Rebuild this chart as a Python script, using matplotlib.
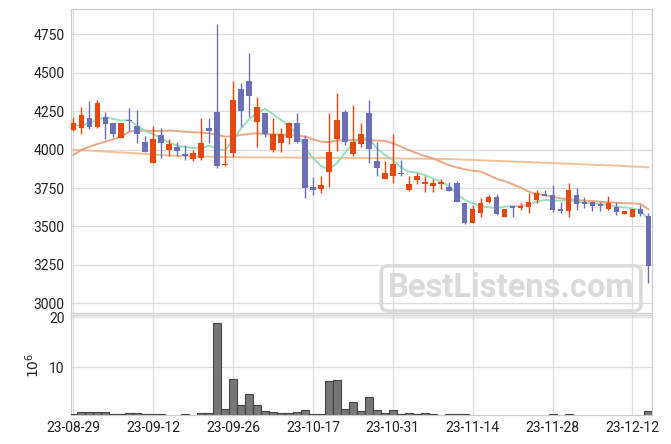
import matplotlib
matplotlib.use("Agg")
import matplotlib.pyplot as plt
import numpy as np

plt.rcParams['font.family'] = ['Roboto', 'DejaVu Sans']

# 일봉 데이터
opens = [4130, 4143, 4208, 4146, 4213, 4174, 4074, 4195, 4152, 4050,
         3913, 4098, 3998, 4018, 3972, 3937, 3944, 4141, 4245, 3898,
         3980, 4395, 4447, 4182, 4237, 4000, 4042, 4074, 4172, 4068,
         3755, 3746, 3857, 4072, 4243, 3970, 4035, 4239, 3926, 3809,
         3831, 3848, 3738, 3803, 3777, 3764, 3779, 3757, 3781, 3651,
         3525, 3586, 3660, 3692, 3564, 3633, 3622, 3629, 3673, 3714,
         3707, 3614, 3601, 3705, 3657, 3657, 3647, 3614, 3627, 3583,
         3562, 3614, 3568]
highs = [4215, 4276, 4317, 4324, 4245, 4174, 4174, 4270, 4258, 4087,
         4154, 4139, 4072, 4052, 4033, 3999, 4206, 4206, 4816, 4074,
         4447, 4432, 4628, 4345, 4237, 4204, 4143, 4182, 4237, 4094,
         3824, 3831, 4237, 4367, 4258, 4291, 4172, 4324, 4052, 3926,
         4100, 3933, 3829, 3846, 3829, 3809, 3809, 3792, 3796, 3651,
         3639, 3688, 3703, 3712, 3614, 3633, 3651, 3716, 3738, 3738,
         3770, 3662, 3781, 3749, 3694, 3657, 3660, 3699, 3657, 3601,
         3614, 3640, 3590]
lows = [4124, 4102, 4133, 4141, 4068, 4085, 4074, 4122, 4042, 3983,
        3911, 3944, 3961, 3956, 3933, 3924, 3933, 4042, 3880, 3895,
        3954, 4146, 4215, 4016, 4081, 3983, 3987, 4035, 4042, 3684,
        3705, 3716, 3759, 3992, 4031, 3961, 4020, 3911, 3831, 3809,
        3781, 3831, 3731, 3777, 3727, 3722, 3744, 3733, 3661, 3516,
        3525, 3564, 3655, 3575, 3564, 3560, 3607, 3586, 3651, 3701,
        3596, 3586, 3564, 3607, 3618, 3603, 3603, 3607, 3573, 3583,
        3562, 3568, 3134]
closes = [4172, 4226, 4150, 4304, 4169, 4104, 4174, 4185, 4100, 3983,
          4070, 4046, 4037, 3992, 3959, 3980, 4046, 4122, 3894, 3907,
          4323, 4254, 4352, 4276, 4100, 4102, 4102, 4172, 4052, 3753,
          3740, 3768, 3985, 4193, 4052, 4050, 4102, 4003, 3883, 3846,
          3905, 3843, 3777, 3829, 3792, 3785, 3790, 3733, 3661, 3525,
          3612, 3651, 3692, 3583, 3614, 3622, 3633, 3660, 3716, 3701,
          3607, 3601, 3738, 3647, 3647, 3635, 3635, 3655, 3592, 3601,
          3614, 3583, 3243]

# 거래량 (백만 단위)
volumes = [0.6, 1.0, 1.0, 1.0, 1.0, 0.6, 0.6, 0.8, 0.8, 0.6,
           0.6, 0.6, 0.3, 0.3, 0.6, 0.3, 0.8, 0.8, 18.8, 1.66,
           7.6, 2.4, 4.6, 2.4, 1.2, 1.0, 0.8, 0.8, 1.0, 1.4,
           0.6, 0.6, 7.26, 7.46, 1.66, 3.06, 1.26, 4.0, 1.46, 0.86,
           1.46, 0.6, 0.8, 0.6, 0.8, 0.6, 0.3, 0.6, 0.6, 0.6,
           0.3, 0.3, 0.3, 0.3, 0.3, 0.3, 0.3, 0.3, 0.3, 0.3,
           0.6, 0.3, 0.6, 0.3, 0.3, 0.3, 0.3, 0.3, 0.3, 0.3,
           0.3, 0.3, 1.2]

# 이동평균선
ma5 = [4161, 4156, 4172, 4198, 4211, 4200, 4189, 4193, 4154, 4122,
       4100, 4074, 4046, 4026, 4018, 4011, 4013, 4026, 4005, 3996,
       4063, 4139, 4198, 4241, 4265, 4232, 4193, 4154, 4107, 4012,
       3944, 3894, 3872, 3911, 3980, 4042, 4078, 4074, 4009, 3966,
       3933, 3885, 3857, 3850, 3835, 3814, 3792, 3764, 3712, 3673,
       3651, 3633, 3625, 3620, 3629, 3633, 3633, 3640, 3661, 3673,
       3668, 3668, 3673, 3661, 3657, 3651, 3647, 3640, 3629, 3625,
       3618, 3607, 3542]
ma20 = [3966, 3998, 4020, 4037, 4052, 4068, 4085, 4117, 4124, 4124,
        4122, 4122, 4124, 4122, 4117, 4113, 4111, 4107, 4096, 4085,
        4089, 4096, 4102, 4107, 4102, 4100, 4098, 4096, 4092, 4085,
        4068, 4052, 4050, 4059, 4063, 4063, 4063, 4063, 4059, 4057,
        4042, 4020, 3998, 3977, 3959, 3944, 3922, 3900, 3885, 3872,
        3863, 3857, 3835, 3810, 3796, 3775, 3753, 3727, 3712, 3705,
        3694, 3683, 3677, 3673, 3668, 3666, 3661, 3657, 3655, 3651,
        3651, 3647, 3612]
ma60 = [4000, 3997, 3994, 3991, 3988, 3985, 3982, 3979, 3976, 3972,
        3968, 3965, 3962, 3960, 3958, 3956, 3955, 3954, 3953, 3952,
        3951, 3951, 3950, 3950, 3950, 3949, 3949, 3949, 3948, 3948,
        3948, 3947, 3947, 3947, 3946, 3946, 3946, 3945, 3945, 3944,
        3944, 3943, 3942, 3942, 3941, 3940, 3940, 3939, 3937, 3935,
        3933, 3931, 3929, 3927, 3925, 3923, 3921, 3919, 3917, 3915,
        3913, 3911, 3909, 3907, 3904, 3902, 3900, 3898, 3896, 3893,
        3891, 3888, 3885]

tick_pos = [0, 10, 20, 30, 40, 50, 60, 70]
tick_labels = ['23-08-29', '23-09-12', '23-09-26', '23-10-17',
               '23-10-31', '23-11-14', '23-11-28', '23-12-12']

up_color = '#E8470F'
down_color = '#6B6FB5'
grid_color = '#dddddd'
text_color = '#222222'

o = np.array(opens)
c = np.array(closes)
x = np.arange(len(o))
colors = [up_color if cc >= oo else down_color for oo, cc in zip(o, c)]
bottoms = np.minimum(o, c)
heights = np.maximum(np.abs(c - o), 5)

fig = plt.figure(figsize=(6.71, 4.44), dpi=100)
ax = fig.add_axes([0.1054, 0.2944, 0.8659, 0.6847])
axv = fig.add_axes([0.1054, 0.0653, 0.8659, 0.2252], sharex=ax)

# 캔들
ax.vlines(x, lows, highs, colors=colors, linewidth=1.0, zorder=3)
ax.bar(x, heights, bottom=bottoms, width=0.7, color=colors, linewidth=0, zorder=4)

# 이동평균
ax.plot(x, ma60, color='#F0BC8E', linewidth=1.4, alpha=0.9, zorder=2)
ax.plot(x, ma20, color='#EC9E78', linewidth=1.4, alpha=0.9, zorder=2)
ax.plot(x, ma5, color='#8EDBB8', linewidth=1.4, alpha=0.9, zorder=2)

ax.text(0.758, 0.082, 'BestListens.com', transform=ax.transAxes,
        fontsize=23.5, fontweight='bold', color='#dadada', ha='center', va='center',
        bbox=dict(boxstyle='round,pad=0.2', fc='none', ec='#dadada', lw=2.5), zorder=1)

ax.set_ylim(2935, 4914)
ax.set_yticks(np.arange(3000, 4751, 250))
ax.set_xlim(-0.33, 72.42)

# 거래량
axv.bar(x, volumes, width=1.0, color='#777777', edgecolor='#444444', linewidth=0.8, zorder=3)
axv.set_ylim(0.46, 20.46)
axv.set_yticks([10, 20])
axv.set_ylabel(r'$10^6$', fontsize=10, color=text_color, labelpad=5)
axv.set_xticks(tick_pos)
axv.set_xticklabels(tick_labels)

for a in (ax, axv):
    a.grid(True, color=grid_color, linewidth=0.9, zorder=0)
    a.set_axisbelow(True)
    a.tick_params(length=0, labelsize=10, colors=text_color, pad=4.5)
    for s in a.spines.values():
        s.set_color('#cccccc')
        s.set_linewidth(0.9)
ax.tick_params(labelbottom=False)

fig.savefig('out.png', dpi=100)
